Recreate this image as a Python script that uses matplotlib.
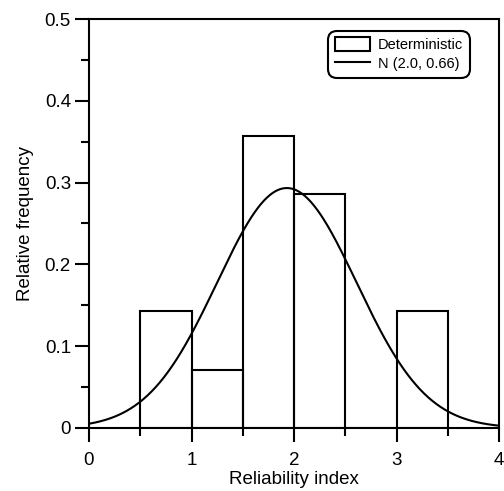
import numpy as np
import matplotlib
matplotlib.use("Agg")
import matplotlib.pyplot as plt
from matplotlib.ticker import MultipleLocator

plt.rcParams['font.family'] = ['Liberation Sans', 'DejaVu Sans']

bin_edges = [0.5, 1.0, 1.5, 2.0, 2.5, 3.0, 3.5]
rel_freq = [0.143, 0.071, 0.357, 0.286, 0.0, 0.143]
fit_mu = 1.93
fit_sigma = 0.68
bin_width = 0.5
xticks = [0, 1, 2, 3, 4]
yticks = [0, 0.1, 0.2, 0.3, 0.4, 0.5]
ytick_labels = ['0', '0.1', '0.2', '0.3', '0.4', '0.5']

fig = plt.figure(figsize=(5.04, 4.91), dpi=100)
ax = fig.add_axes([89/504, 63/491, 410/504, 409/491])

lefts = bin_edges[:-1]
bars = ax.bar(lefts, rel_freq, width=np.diff(bin_edges), align='edge',
              facecolor='none', edgecolor='black', linewidth=1.5, label='Deterministic')

x = np.linspace(0, 4, 400)
y = bin_width * np.exp(-0.5 * ((x - fit_mu) / fit_sigma) ** 2) / (fit_sigma * np.sqrt(2 * np.pi))
line, = ax.plot(x, y, color='black', linewidth=1.5, label='N (2.0, 0.66)')

ax.set_xlim(0, 4)
ax.set_ylim(0, 0.5)
ax.set_xticks(xticks)
ax.set_yticks(yticks)
ax.set_yticklabels(ytick_labels)
ax.xaxis.set_minor_locator(MultipleLocator(0.5))
ax.yaxis.set_minor_locator(MultipleLocator(0.05))
ax.tick_params(which='major', direction='out', length=10, width=1.5, labelsize=13.5, pad=3)
ax.tick_params(axis='x', which='major', pad=7)
ax.tick_params(which='minor', direction='out', length=5.5, width=1.5)
for s in ax.spines.values():
    s.set_linewidth(1.5)

ax.set_xlabel('Reliability index', fontsize=13.5, labelpad=2)
ax.set_ylabel('Relative frequency', fontsize=13.5, labelpad=8)

leg = ax.legend(handles=[bars, line], labels=['Deterministic', 'N (2.0, 0.66)'],
                loc='upper right', bbox_to_anchor=(0.929, 0.971), fontsize=10.5,
                frameon=True, fancybox=True, edgecolor='black',
                handlelength=2.4, handleheight=1.1, handletextpad=0.55,
                borderpad=0.45, labelspacing=0.27, borderaxespad=0)
leg.get_frame().set_linewidth(1.5)
leg.get_frame().set_alpha(1)
leg.get_frame().set_boxstyle('round,pad=0,rounding_size=0.6')

fig.savefig('out.png', dpi=100)
